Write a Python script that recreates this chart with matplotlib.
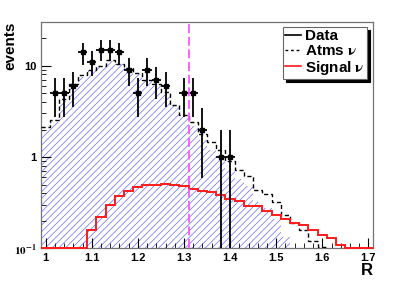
import numpy as np
import matplotlib
matplotlib.use("Agg")
import matplotlib.pyplot as plt
from matplotlib.ticker import FixedLocator, FixedFormatter, NullFormatter

plt.rcParams['font.family'] = ['Liberation Sans', 'DejaVu Sans']
plt.rcParams['font.weight'] = 'bold'
plt.rcParams['mathtext.fontset'] = 'stix'
plt.rcParams['hatch.linewidth'] = 0.45

# histogram binning (R)
edges = np.round(np.arange(0.99, 1.7101, 0.02), 2)

# atmospheric neutrinos, total (black dashed)
atms = [2.15, 2.55, 4.3, 6.3, 7.8, 9.0, 10.0, 11.4, 10.4, 9.5, 8.3, 7.0,
        6.3, 5.1, 3.7, 2.85, 2.4, 1.8, 1.45, 1.2, 0.9, 0.72, 0.62, 0.44,
        0.39, 0.32, 0.23, 0.19, 0.16, 0.12, 0.105, 0, 0, 0, 0, 0]

# atmospheric neutrinos, hatched component (blue)
atms_fill = [2.0, 2.4, 4.05, 6.0, 7.6, 8.8, 10.0, 11.2, 10.3, 9.3, 8.0, 6.8,
             6.0, 4.9, 3.6, 2.75, 2.2, 1.55, 1.2, 0.98, 0.74, 0.57, 0.48, 0.32,
             0.28, 0.21, 0.135, 0, 0, 0, 0, 0, 0, 0, 0, 0]

# signal neutrinos (red)
signal = [0, 0, 0, 0, 0, 0.158, 0.22, 0.30, 0.37, 0.43, 0.47, 0.50,
          0.49, 0.51, 0.49, 0.48, 0.45, 0.43, 0.41, 0.38, 0.35, 0.33, 0.29, 0.288,
          0.26, 0.23, 0.21, 0.19, 0.18, 0.158, 0.14, 0.13, 0.11, 0.101, 0, 0]

# data points
data_r = [1.02, 1.04, 1.06, 1.08, 1.10, 1.12, 1.14, 1.16, 1.18, 1.20,
          1.22, 1.24, 1.26, 1.30, 1.32, 1.34, 1.38, 1.40]
data_n = [5, 5, 6, 14, 11, 15, 15, 14, 9, 5, 9, 7, 6, 5, 5, 2, 1, 1]

cut_r = 1.31

ymin, ymax = 0.1, 30

fig = plt.figure(figsize=(4.15, 2.82), dpi=100)
ax = fig.add_axes([0.0988, 0.119, 0.80, 0.803])

atms = np.array(atms, dtype=float)
atms_fill = np.array(atms_fill, dtype=float)
signal = np.array(signal, dtype=float)
data_n = np.array(data_n, dtype=float)

fill_vals = np.where(atms_fill > 0, atms_fill, 0.01)
ax.stairs(fill_vals, edges, baseline=0.01, fill=True, facecolor='none',
          edgecolor='#5a5aff', hatch='/////', linewidth=0, zorder=1)

atms_vals = np.where(atms > 0, atms, 0.05)
ax.stairs(atms_vals, edges, baseline=None, color='black', linewidth=1.0,
          linestyle=(0, (3, 2)), zorder=3)

sig_vals = np.where(signal > 0, signal, ymin)
ax.stairs(sig_vals, edges, baseline=None, color='#ff1a1a', linewidth=1.4,
          zorder=4, clip_on=False)

err = np.sqrt(data_n)
lower = np.minimum(err, data_n * 0.999)
ax.errorbar(data_r, data_n, yerr=[lower, err], xerr=0.01, fmt='s',
            color='black', markersize=2.2, elinewidth=1.3, capsize=0, zorder=5)

ax.axvline(cut_r, color='#ff55ff', linewidth=1.3, linestyle=(0, (5, 2)), zorder=6)

ax.set_yscale('log')
ax.set_xlim(edges[0], edges[-1])
ax.set_ylim(ymin, ymax)

ax.yaxis.set_major_locator(FixedLocator([0.1, 1, 10]))
ax.yaxis.set_major_formatter(FixedFormatter([r'$\mathbf{10^{-1}}$', '1', '10']))
ax.yaxis.set_minor_locator(FixedLocator([m * d for d in (0.1, 1, 10) for m in range(2, 10)]))
ax.yaxis.set_minor_formatter(NullFormatter())

ax.xaxis.set_major_locator(FixedLocator([1.0, 1.1, 1.2, 1.3, 1.4, 1.5, 1.6, 1.7]))
ax.xaxis.set_major_formatter(FixedFormatter(['1', '1.1', '1.2', '1.3', '1.4', '1.5', '1.6', '1.7']))
ax.xaxis.set_minor_locator(FixedLocator(np.round(np.arange(1.0, 1.71, 0.02), 2)))

ax.tick_params(which='both', direction='in', top=False, right=False,
               labelsize=8, colors='black', pad=3)
ax.tick_params(which='major', length=7, width=0.8)
ax.tick_params(which='minor', length=3.5, width=0.6)
for lab in ax.get_xticklabels() + ax.get_yticklabels():
    lab.set_fontweight('bold')
for sp in ax.spines.values():
    sp.set_color('0.45')
    sp.set_linewidth(0.9)

ax.set_ylabel('events', fontsize=11, fontweight='bold', loc='top')
ax.yaxis.set_label_coords(-0.07, 1.0)
ax.set_xlabel('R', fontsize=12, fontweight='bold', loc='right')
ax.xaxis.set_label_coords(1.0, -0.117)
ax.xaxis.label.set_va('baseline')

h_data = plt.Line2D([], [], color='black', linewidth=1.2)
h_atms = plt.Line2D([], [], color='black', linewidth=1.0, linestyle=(0, (2, 2)))
h_sig = plt.Line2D([], [], color='#ff1a1a', linewidth=1.2)
leg = ax.legend([h_data, h_atms, h_sig],
                ['Data', r'Atms $\mathrm{\nu}$', r'Signal $\mathrm{\nu}$'],
                loc='upper right', bbox_to_anchor=(0.982, 0.978), borderaxespad=0,
                prop={'weight': 'bold', 'size': 11}, handlelength=1.0,
                handletextpad=0.3, labelspacing=0.05, borderpad=0.15,
                fancybox=False, framealpha=1, edgecolor='0.4',
                shadow={'color': 'black', 'alpha': 1, 'ox': 2, 'oy': -2})
leg.get_frame().set_linewidth(0.8)
leg.set_zorder(10)

fig.savefig('out.png', dpi=100)
